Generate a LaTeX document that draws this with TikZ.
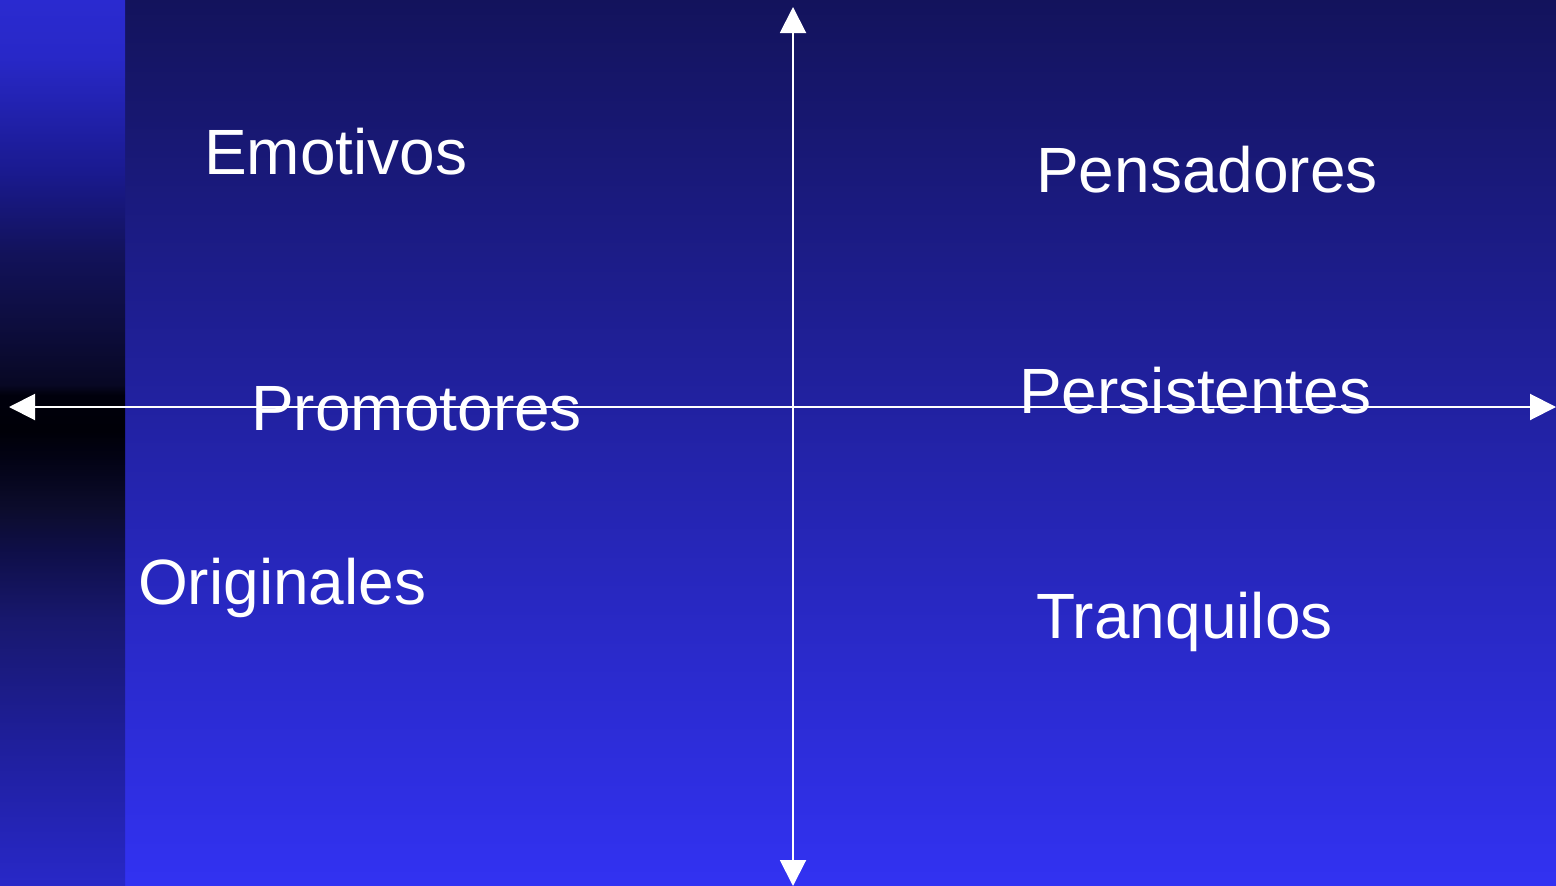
\documentclass[tikz,border=0pt]{standalone}
\usepackage{fontspec}
\setmainfont{Liberation Sans}
\usetikzlibrary{arrows.meta}
\definecolor{bgtop}{RGB}{19,19,92}
\definecolor{bgbot}{RGB}{50,50,242}
\pgfdeclareverticalshading{stripshade}{100bp}{%
  rgb(0bp)=(0.157,0.157,0.784);
  rgb(25bp)=(0.157,0.157,0.784);
  rgb(33.6bp)=(0.118,0.118,0.596);
  rgb(40bp)=(0.094,0.094,0.431);
  rgb(44.1bp)=(0.055,0.055,0.275);
  rgb(46.3bp)=(0.047,0.047,0.173);
  rgb(49.2bp)=(0.008,0.008,0.078);
  rgb(50.7bp)=(0,0,0.03);
  rgb(52.7bp)=(0,0,0.047);
  rgb(53.3bp)=(0.031,0.031,0.141);
  rgb(55.9bp)=(0.047,0.047,0.22);
  rgb(60.7bp)=(0.071,0.071,0.353);
  rgb(65.4bp)=(0.102,0.102,0.565);
  rgb(71.8bp)=(0.157,0.157,0.784);
  rgb(75bp)=(0.165,0.165,0.816);
  rgb(100bp)=(0.165,0.165,0.816)}
\tikzset{
  lbl/.style={anchor=base west, inner sep=0pt, text=white, font=\fontsize{64}{70}\selectfont},
  axis/.style={draw=white, line width=2pt, {Triangle[length=26pt,width=26pt]}-{Triangle[length=26pt,width=26pt]}}
}
\begin{document}
\begin{tikzpicture}[x=1pt,y=-1pt]
\useasboundingbox (0,0) rectangle (1556,886);
\shade[top color=bgtop, bottom color=bgbot] (125,0) rectangle (1556,886);
\shade[shading=stripshade] (0,0) rectangle (125,886);
\coordinate (top) at (793,7);
\coordinate (bot) at (793,886);
\coordinate (left) at (9,407);
\coordinate (right) at (1556,407);
\draw[axis] (bot) -- (top);
\draw[axis] (left) -- (right);
\node[lbl] (emo) at (204,174) {Emotivos};
\node[lbl] (pen) at (1036,192) {Pensadores};
\node[lbl] (per) at (1019,413) {Persistentes};
\node[lbl] (pro) at (251,430) {Promotores};
\node[lbl] (ori) at (138,604) {Originales};
\node[lbl] (tra) at (1036,638) {Tranquilos};
\end{tikzpicture}
\end{document}
